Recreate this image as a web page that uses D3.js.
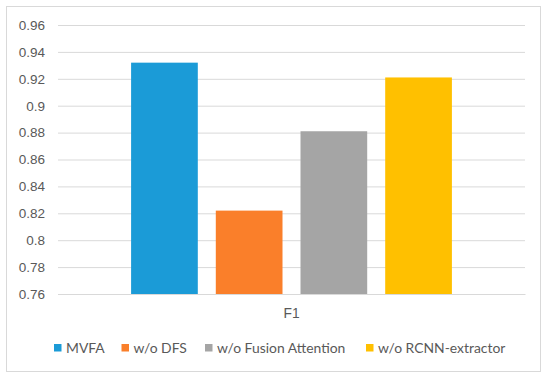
<!DOCTYPE html>
<html>
<head>
<meta charset="utf-8">
<script src="https://cdn.jsdelivr.net/npm/d3@7/dist/d3.min.js"></script>
<style>
  html, body { margin: 0; padding: 0; background: #fff; }
  svg { display: block; font-family: Lato, "Open Sans", "Liberation Sans", sans-serif; }
</style>
</head>
<body>
<svg id="chart" width="550" height="381"></svg>
<script>
const categories = ["F1"];
const seriesNames = ["MVFA", "w/o DFS", "w/o Fusion Attention", "w/o RCNN-extractor"];
const seriesValues = [0.932, 0.822, 0.881, 0.921];
const seriesColors = ["#1B9BD7", "#FA7F2A", "#A5A5A5", "#FFC000"];
const yTicks = [0.76, 0.78, 0.8, 0.82, 0.84, 0.86, 0.88, 0.9, 0.92, 0.94, 0.96];

const svg = d3.select("#chart");
const W = 550, H = 381;
const plot = { left: 58, right: 525, top: 25, bottom: 294 };

svg.append("rect").attr("x", 0).attr("y", 0).attr("width", W).attr("height", H).attr("fill", "#fff");
svg.append("rect").attr("x", 6.5).attr("y", 6.5).attr("width", 534).attr("height", 365)
  .attr("fill", "#fff").attr("stroke", "#d9d9d9").attr("stroke-width", 1);

const y = d3.scaleLinear().domain([0.76, 0.96]).range([plot.bottom, plot.top]);
const x0 = d3.scaleBand().domain(categories).range([plot.left, plot.right]).padding(0);
const x1 = d3.scaleBand().domain(seriesNames).range([0, x0.bandwidth()])
  .paddingInner(0.2125).paddingOuter(0.863);

// gridlines
const yAxis = d3.axisLeft(y).tickValues(yTicks).tickFormat(d => d3.format("")(+d.toFixed(2)))
  .tickSize(-(plot.right - plot.left)).tickPadding(13);
const gy = svg.append("g").attr("transform", `translate(${plot.left},0)`).call(yAxis);
gy.select(".domain").remove();
gy.selectAll(".tick line").attr("stroke", "#d9d9d9").attr("stroke-width", 1);
gy.selectAll(".tick text").attr("fill", "#595959").style("font-size", "13.5px");

// bars
const g = svg.append("g");
categories.forEach(cat => {
  g.selectAll(null).data(seriesValues).enter().append("rect")
    .attr("x", (d, i) => x0(cat) + x1(seriesNames[i]))
    .attr("width", x1.bandwidth())
    .attr("y", d => y(d))
    .attr("height", d => y(0.76) - y(d))
    .attr("fill", (d, i) => seriesColors[i]);
});

// category axis
const xAxis = d3.axisBottom(x0).tickSize(0).tickPadding(14);
const gx = svg.append("g").attr("transform", `translate(0,${plot.bottom})`).call(xAxis);
gx.select(".domain").attr("stroke", "#d9d9d9");
gx.selectAll(".tick text").attr("fill", "#595959").style("font-size", "13.8px");

// legend
const legendY = 348;
const legendX = [54, 121.5, 205, 366];
const lg = svg.append("g");
seriesNames.forEach((name, i) => {
  lg.append("rect").attr("x", legendX[i]).attr("y", legendY - 4).attr("width", 7.5).attr("height", 7.5)
    .attr("fill", seriesColors[i]);
  lg.append("text").attr("x", legendX[i] + 12).attr("y", legendY).attr("dy", "0.35em")
    .attr("fill", "#595959").style("font-size", "13.9px").text(name);
});
</script>
</body>
</html>
